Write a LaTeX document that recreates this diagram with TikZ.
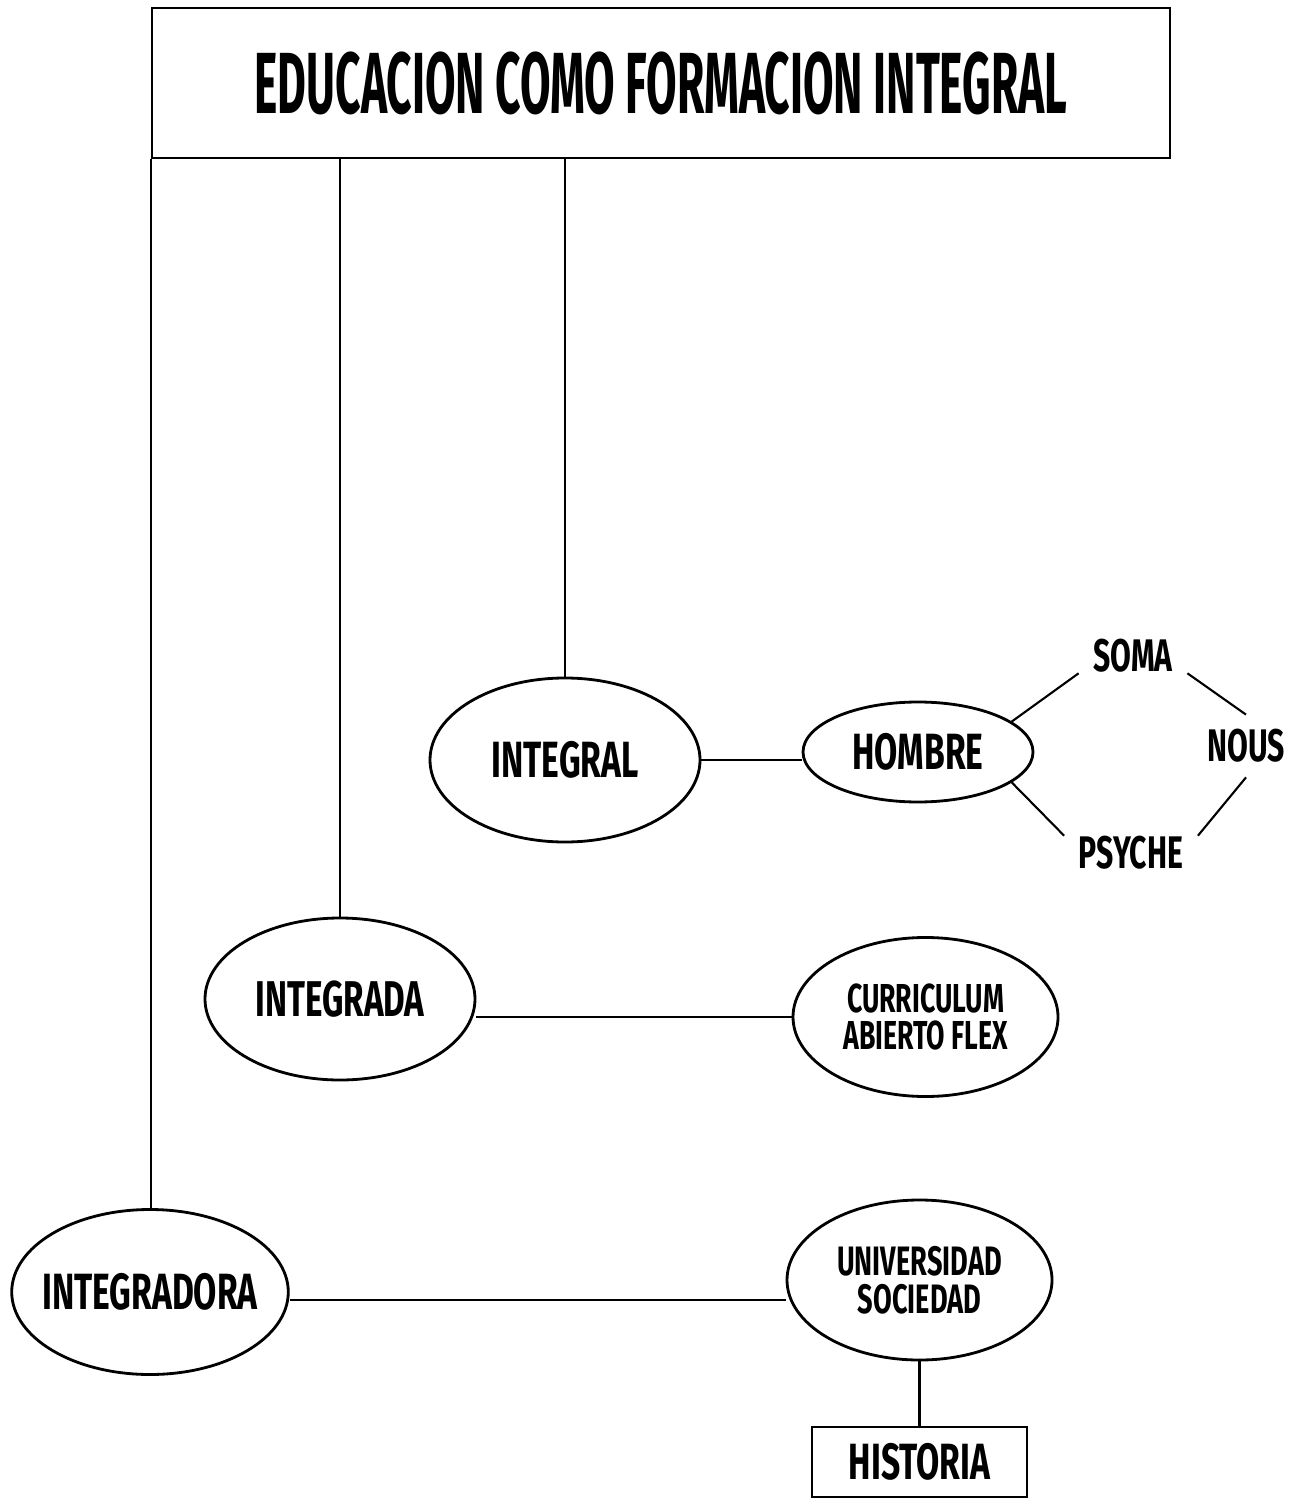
\documentclass[tikz,border=0pt]{standalone}
\usepackage{fontspec}
\setmainfont{Fira Sans}[FakeStretch=0.66]
\newfontfamily\titlefont{Fira Sans}[FakeStretch=0.51]
\usetikzlibrary{shapes.geometric}
\begin{document}
\begin{tikzpicture}
    \tikzset{
	oval/.style={draw, ellipse, line width=0.8pt, inner sep=0pt, align=center},
	box/.style={draw, rectangle, line width=0.8pt, inner sep=0pt},
	word/.style={inner xsep=4pt, inner ysep=0pt},
	link/.style={line width=0.6pt}
    }
    \useasboundingbox (0,0) rectangle (12.88,-15.02);

    \node (title) at (6.61,-0.83) [box, minimum width=10.18cm, minimum height=1.5cm,
	font=\titlefont\bfseries\fontsize{24.7}{26}\selectfont] {EDUCACION COMO FORMACION INTEGRAL};

    \node (integral) at (5.65,-7.60) [oval, minimum width=2.70cm, minimum height=1.64cm,
	font=\bfseries\fontsize{14.5}{16}\selectfont] {INTEGRAL};
    \node (hombre) at (9.18,-7.52) [oval, minimum width=2.30cm, minimum height=1.00cm,
	font=\bfseries\fontsize{14.5}{16}\selectfont] {HOMBRE};
    \node (soma) at (11.33,-6.56) [word, font=\bfseries\fontsize{13}{14}\selectfont] {SOMA};
    \node (nous) at (12.46,-7.46) [word, inner ysep=4pt, font=\bfseries\fontsize{13}{14}\selectfont] {NOUS};
    \node (psyche) at (11.31,-8.53) [word, font=\bfseries\fontsize{13}{14}\selectfont] {PSYCHE};

    \node (integrada) at (3.40,-9.99) [oval, minimum width=2.70cm, minimum height=1.62cm,
	font=\bfseries\fontsize{14.3}{16}\selectfont] {INTEGRADA};
    \node (curriculum) at (9.255,-10.17) [oval, minimum width=2.65cm, minimum height=1.59cm,
	font=\bfseries\fontsize{11.5}{10.8}\selectfont] {CURRICULUM\\ABIERTO FLEX};

    \node (integradora) at (1.50,-12.92) [oval, inner xsep=-0.1cm, minimum width=2.75cm, minimum height=1.65cm,
	font=\bfseries\fontsize{14.5}{16}\selectfont] {INTEGRADORA};
    \node (universidad) at (9.195,-12.80) [oval, minimum width=2.65cm, minimum height=1.60cm,
	font=\bfseries\fontsize{11.7}{10.8}\selectfont] {UNIVERSIDAD\\SOCIEDAD};
    \node (historia) at (9.195,-14.62) [box, minimum width=2.15cm, minimum height=0.70cm,
	font=\bfseries\fontsize{14.5}{17}\selectfont] {HISTORIA};

    % ramas desde el titulo
    \draw [link] (title.south west) -- (title.south west |- integradora.north);
    \draw [link] (integrada.north |- title.south) -- (integrada.north);
    \draw [link] (integral.north |- title.south) -- (integral.north);

    \draw [link] (integral.east) -- (integral.east -| hombre.west);
    \draw [link] (hombre.18) -- (soma.south west);
    \draw [link] (hombre.-18) -- (psyche.north west);
    \draw [link] (soma.south east) -- (nous.north);
    \draw [link] (nous.south) -- (psyche.north east);

    \draw [link] (integrada.east |- curriculum.west) -- (curriculum.west);
    \draw [link] ([yshift=-0.08cm]integradora.east) -- ([yshift=-0.08cm]integradora.east -| universidad.west);
    \draw [link] (universidad.south) -- (historia.north);
\end{tikzpicture}
\end{document}
